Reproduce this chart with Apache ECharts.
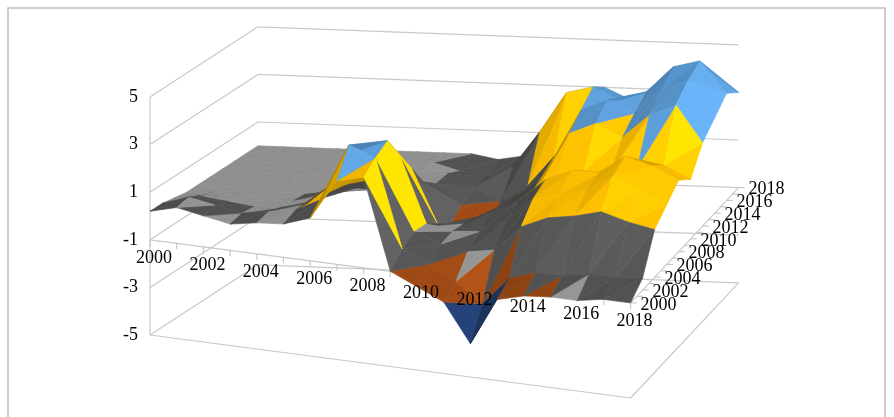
<!DOCTYPE html>
<html><head><meta charset="utf-8">
<script src="https://cdn.jsdelivr.net/npm/echarts@6/dist/echarts.min.js"></script>
<style>html,body{margin:0;padding:0;background:#fff}#main{width:894px;height:417px}</style>
</head><body><div id="main"></div>
<script>
var xLabels = ['2000','2002','2004','2006','2008','2010','2012','2014','2016','2018'];
var depthLabels = ['2000','2002','2004','2006','2008','2010','2012','2014','2016','2018'];
var zTicks = [-5,-3,-1,1,3,5];
// one row per depth year (2000, 2002 ... 2018), 19 values each (2000..2018)
var r2000 = [0.2,0.5,0.3,0.1,0.3,0.4,0.8,2.5,2.8,-1.0,-1.5,-2.0,-3.6,-1.6,-1.3,-1.2,-1.2,-1.0,-1.0];
var r2002 = [0.2,0.6,0.4,0.2,0.4,0.6,1.2,3.6,3.2,-0.5,-1.0,-1.6,-2.4,-1.2,-0.8,-0.8,-0.6,-0.6,-0.5];
var r2004 = [0.1,0.3,0.2,0.1,0.2,0.5,1.5,3.0,3.5,-0.2,-0.6,-0.8,-0.6,0.5,1.0,1.2,1.5,1.2,1.0];
var r2006 = [0,0.1,0.1,0,0.1,0.3,1.0,2.0,2.5,-0.3,-0.5,-0.4,0.2,1.2,1.5,1.8,2.5,2.0,1.5];
var r2008 = [0,0,0,0,0,0.2,0.5,1.0,1.5,-0.8,-0.6,0,0.5,1.5,2.0,2.0,2.8,2.5,2.0];
var r2010 = [0,0,0,0,0,0,0,0.3,0.5,-1.2,-0.8,-0.2,0.3,1.0,1.5,1.5,1.8,2.0,1.5];
var r2012 = [0,0,0,0,0,0,0,0,0,-0.8,-1.5,-0.5,0.5,2.5,3.0,2.5,3.5,4.0,2.5];
var r2014 = [0,0,0,0,0,0,0,0,0,-0.5,-1.0,-0.3,1.0,3.0,3.5,3.0,4.0,4.5,3.0];
var r2016 = [0,0,0,0,0,0,0,0,-0.3,-0.5,0,1.5,3.2,3.5,3.0,3.4,4.5,4.8,3.5];
var r2018 = [0,0,0,0,0,0,0,0,0,-0.2,0,1.0,2.5,3.0,2.5,3.0,3.5,3.8,3.0];
var rows = [r2000,r2002,r2004,r2006,r2008,r2010,r2012,r2014,r2016,r2018];

// pseudo 3D projection into a pixel-sized value grid
function proj(c, d, z) {
    var t = c / 18;
    var x = 150 + c * 26.7 + d * 6.0;
    var y = 216 + c * 3.5 - d * (3.9 + 2.5 * t) - z * 23.8;
    return [x, y];
}
function bandColor(z) {
    if (z < -3) return [31,56,100];
    if (z < -1) return [150,70,20];
    if (z < 1) return [150,150,150];
    if (z < 3) return [255,192,0];
    return [91,155,213];
}

var quads = [];
for (var r = rows.length - 2; r >= 0; r--) {
    for (var c = 0; c < 18; c++) quads.push([c, r]);
}

var chart = echarts.init(document.getElementById('main'));
function pt(api, p) { return api.coord(p); }

var option = {
    animation: false,
    grid: {left: 0, right: 0, top: 0, bottom: 0},
    xAxis: {type: 'value', min: 0, max: 894, show: false},
    yAxis: {type: 'value', min: 0, max: 417, inverse: true, show: false},
    graphic: [{type: 'rect', shape: {x: 8, y: 8, width: 877, height: 420}, style: {fill: 'none', stroke: '#bfbfbf', lineWidth: 1.5}}],
    series: [
        {   // walls and floor
            type: 'custom', silent: true,
            data: [0],
            renderItem: function (params, api) {
                var ch = [];
                var st = {stroke: '#c8c8c8', lineWidth: 1.2};
                function L(a, b) {
                    var p = pt(api, a), q = pt(api, b);
                    ch.push({type: 'line', shape: {x1: p[0], y1: p[1], x2: q[0], y2: q[1]}, style: st});
                }
                zTicks.forEach(function (z) {
                    L(proj(0, 0, z), proj(0, 18, z));
                    L(proj(0, 18, z), proj(18, 18, z));
                });
                L(proj(0, 0, -5), proj(0, 0, 5));
                L(proj(0, 0, -5), proj(18, 0, -5));
                L(proj(18, 0, -5), proj(18, 18, -5));
                L(proj(0, 0, -1), proj(18, 0, -1));
                L(proj(18, 0, -1), proj(18, 18, -1));
                for (var i = 0; i <= 18; i++) {
                    var a = proj(i, 0, -1);
                    L(a, [a[0], a[1] + 6]);
                    var b = proj(18, i, -1);
                    L(b, [b[0] + 6, b[1]]);
                }
                return {type: 'group', children: ch};
            }
        },
        {   // surface
            type: 'custom', silent: true,
            data: quads,
            renderItem: function (params, api) {
                var c = api.value(0), r = api.value(1);
                var d0 = r * 2, d1 = r * 2 + 2;
                var z00 = rows[r][c], z10 = rows[r][c + 1], z01 = rows[r + 1][c], z11 = rows[r + 1][c + 1];
                var tris = [
                    [[c, d0, z00], [c + 1, d0, z10], [c + 1, d1, z11]],
                    [[c, d0, z00], [c + 1, d1, z11], [c, d1, z01]]
                ];
                var ch = [];
                tris.forEach(function (tr, k) {
                    var avg = (tr[0][2] + tr[1][2] + tr[2][2]) / 3;
                    var mn = Math.min(tr[0][2], tr[1][2], tr[2][2]);
                    var col = bandColor(mn < -3 ? mn : avg);
                    var slope = (k === 0 ? (z10 - z00) : (z11 - z01));
                    var dz = (k === 0 ? (z11 - z10) : (z01 - z00));
                    var f = Math.max(0.45, Math.min(1.2, 0.95 - slope * 0.12 + dz * 0.08));
                    if (avg > -1 && avg < 1 && Math.abs(dz) + Math.abs(slope) > 0.3) f *= 0.55;
                    var rgb = 'rgb(' + col.map(function (v) { return Math.min(255, Math.round(v * f)); }).join(',') + ')';
                    var ps = tr.map(function (p) { return pt(api, proj(p[0], p[1], p[2])); });
                    ch.push({type: 'polygon', shape: {points: ps}, style: {fill: rgb, stroke: rgb, lineWidth: 0.6}});
                });
                return {type: 'group', children: ch};
            }
        },
        {   // labels
            type: 'custom', silent: true,
            data: [0],
            renderItem: function (params, api) {
                var ch = [];
                var font = '18px "Liberation Serif", "DejaVu Serif", serif';
                zTicks.forEach(function (z) {
                    var p = pt(api, proj(0, 0, z));
                    ch.push({type: 'text', style: {text: String(z), x: p[0] - 12, y: p[1], align: 'right', verticalAlign: 'middle', font: font, fill: '#000'}});
                });
                xLabels.forEach(function (s, i) {
                    var p = pt(api, proj(i * 2, 0, -1));
                    ch.push({type: 'text', style: {text: s, x: p[0] + 4, y: p[1] + 18, align: 'center', verticalAlign: 'middle', font: font, fill: '#000'}});
                });
                depthLabels.forEach(function (s, i) {
                    var p = pt(api, proj(18, i * 2, -1));
                    ch.push({type: 'text', style: {text: s, x: p[0] + 10, y: p[1] + 2, align: 'left', verticalAlign: 'middle', font: font, fill: '#000'}});
                });
                return {type: 'group', children: ch};
            }
        }
    ]
};
chart.setOption(option);
</script>
</body></html>
